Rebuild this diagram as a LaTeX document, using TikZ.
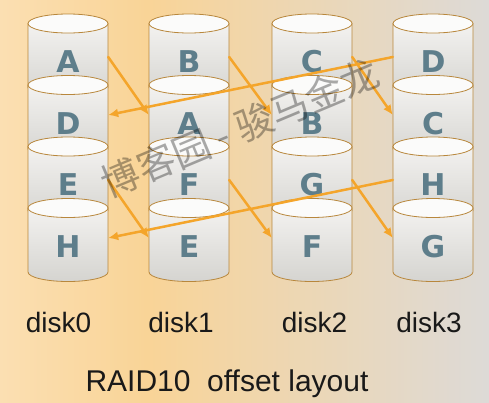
\documentclass[tikz,border=0pt]{standalone}
\usepackage{fontspec}
\setmainfont{Liberation Sans}
\newfontfamily\letterfont{DejaVu Sans}
\newfontfamily\cjkfont{Noto Sans CJK SC}
\usetikzlibrary{arrows.meta}
\tikzset{>=latex}
\definecolor{bgleft}{HTML}{FBDFB2}
\definecolor{bgmid}{HTML}{F9D497}
\definecolor{bgright}{HTML}{DDDAD7}
\definecolor{rim}{HTML}{B8873C}
\definecolor{bodytop}{HTML}{F3F2F0}
\definecolor{bodybot}{HTML}{D5D4D0}
\definecolor{capfill}{HTML}{FBFBFA}
\definecolor{lettercol}{HTML}{5E7E8B}
\definecolor{arrowcol}{HTML}{F4A52B}
\pgfdeclarehorizontalshading{backdrop}{100bp}{color(0bp)=(bgleft); color(25bp)=(bgleft); color(40bp)=(bgmid); color(75bp)=(bgright); color(100bp)=(bgright)}
\tikzset{letter/.style={text=lettercol, font=\letterfont\bfseries\fontsize{30}{30}\selectfont, minimum width=80pt, minimum height=40pt, inner sep=0pt}}
\tikzset{copyarrow/.style={draw=arrowcol, line width=2.5pt, -{Latex[length=10pt, width=9pt]}}}
\tikzset{disklabel/.style={anchor=base, font=\fontsize{28}{28}\selectfont, text=black!90}}
\newcommand{\disk}[4]{%
	% body
	\shade[top color=bodytop, bottom color=bodybot, draw=rim, line width=0.8pt]
		(#1-40,-#2) -- (#1-40,-#2-64) arc[start angle=180, end angle=360, x radius=40, y radius=9.5] -- (#1+40,-#2) -- cycle;
	% top
	\draw[rim, fill=capfill, line width=0.8pt] (#1,-#2) ellipse [x radius=40, y radius=9.5];
	\node[letter] (#4) at (#1,-#2-38.5) {#3};
}

\begin{document}
\begin{tikzpicture}[x=1pt, y=1pt, line cap=round, line join=round]
	
	% Background
	\shade[shading=backdrop] (0,0) rectangle (489,-402);
	\useasboundingbox (0,0) rectangle (489,-402);
	
	% Disks
	\foreach \x/\c/\la/\lb/\lc/\ld in {68/0/A/D/E/H, 189/1/B/A/F/E, 312/2/C/B/G/F, 433/3/D/C/H/G}
	{
		\disk{\x}{23.5}{\la}{d\c r1}
		\disk{\x}{85}{\lb}{d\c r2}
		\disk{\x}{146.5}{\lc}{d\c r3}
		\disk{\x}{208}{\ld}{d\c r4}
	}
	
	% Arrows
	\foreach \a/\b in {0/1, 1/2, 2/3}
	{
		\draw[copyarrow] ([yshift=5pt]d\a r1.east) -- ([yshift=8.5pt]d\b r2.west);
		\draw[copyarrow] ([yshift=5pt]d\a r3.east) -- ([yshift=8.5pt]d\b r4.west);
	}
	\draw[copyarrow] ([yshift=5pt]d3r1.west) -- ([yshift=8.5pt]d0r2.east);
	\draw[copyarrow] ([yshift=5pt]d3r3.west) -- ([yshift=8.5pt]d0r4.east);
	
	% Labels
	\node[disklabel] (disk0) at (58.5,-332.5) {disk0};
	\node[disklabel] (disk1) at (181,-332.5) {disk1};
	\node[disklabel] (disk2) at (314.5,-332.5) {disk2};
	\node[disklabel] (disk3) at (429,-332.5) {disk3};
	\node[disklabel, font=\fontsize{30}{30}\selectfont] (title) at (227,-391) {RAID10\ \ offset layout};
	
	% Watermark
	\node[rotate=22.7, text=black, text opacity=0.33, font=\cjkfont\fontsize{38}{38}\selectfont] (wmark) at (240,-128) {博客园 - 骏马金龙};
\end{tikzpicture}
\end{document}
